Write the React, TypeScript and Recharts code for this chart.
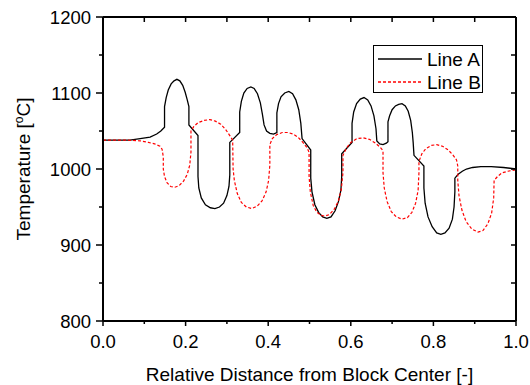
import React from 'react';
import { LineChart, Line, XAxis, YAxis, Legend } from 'recharts';

const FONT = '"Liberation Sans", Arial, sans-serif';

// [relative distance, temperature in °C]
const lineA: [number, number][] = [
    [0, 1038], [0.04, 1038], [0.065, 1038], [0.09, 1040], [0.114, 1042], [0.13, 1046], [0.14, 1050], [0.149, 1055],
    [0.149, 1082], [0.153, 1094], [0.158, 1104], [0.165, 1112], [0.172, 1116], [0.179, 1118], [0.186, 1116],
    [0.193, 1110], [0.199, 1101], [0.204, 1091], [0.208, 1082], [0.208, 1058], [0.23, 1044],
    [0.23, 990], [0.232, 975], [0.238, 962], [0.248, 953], [0.26, 949], [0.271, 948], [0.282, 950], [0.292, 955],
    [0.3, 965], [0.305, 977], [0.307, 992], [0.307, 1035], [0.331, 1048],
    [0.331, 1075], [0.335, 1089], [0.341, 1100], [0.349, 1106], [0.358, 1108], [0.366, 1106], [0.374, 1099],
    [0.381, 1087], [0.386, 1072], [0.39, 1058], [0.396, 1050], [0.404, 1047], [0.413, 1046], [0.421, 1048],
    [0.421, 1074], [0.425, 1086], [0.431, 1095], [0.44, 1100], [0.45, 1102], [0.459, 1099], [0.467, 1091],
    [0.474, 1078], [0.479, 1060], [0.482, 1040], [0.503, 1025],
    [0.503, 988], [0.506, 970], [0.513, 953], [0.522, 943], [0.532, 937], [0.542, 935], [0.552, 937], [0.562, 945],
    [0.57, 957], [0.576, 972], [0.578, 990], [0.578, 1020], [0.603, 1035],
    [0.603, 1060], [0.607, 1075], [0.614, 1086], [0.623, 1092], [0.632, 1094], [0.641, 1091], [0.649, 1083],
    [0.656, 1070], [0.661, 1053], [0.663, 1037], [0.67, 1033], [0.678, 1032], [0.686, 1034], [0.69, 1036],
    [0.69, 1062], [0.694, 1070], [0.7, 1078], [0.708, 1083], [0.716, 1085], [0.724, 1086], [0.732, 1083],
    [0.739, 1076], [0.745, 1064], [0.749, 1048], [0.751, 1035], [0.753, 1018], [0.777, 1004],
    [0.777, 975], [0.78, 955], [0.787, 937], [0.797, 924], [0.808, 916], [0.818, 914], [0.828, 916], [0.838, 922],
    [0.846, 934], [0.85, 950], [0.852, 970], [0.852, 988], [0.86, 993], [0.87, 997], [0.88, 1000], [0.895, 1002],
    [0.915, 1003], [0.94, 1003], [0.97, 1002], [1.0, 1000],
];

const lineB: [number, number][] = [
    [0, 1038], [0.06, 1038], [0.09, 1037], [0.11, 1035], [0.125, 1033], [0.138, 1030], [0.143, 1026], [0.146, 1016],
    [0.146, 1000], [0.149, 990], [0.155, 982], [0.164, 977], [0.174, 976], [0.184, 978], [0.195, 984], [0.204, 993],
    [0.21, 1005], [0.213, 1022], [0.213, 1050], [0.22, 1056], [0.23, 1061], [0.245, 1064], [0.259, 1065],
    [0.272, 1063], [0.285, 1059], [0.297, 1052], [0.307, 1044], [0.314, 1038],
    [0.315, 1000], [0.318, 985], [0.325, 968], [0.335, 956], [0.347, 950], [0.36, 948], [0.373, 951], [0.385, 958],
    [0.395, 970], [0.401, 985], [0.404, 1005], [0.404, 1032], [0.41, 1040], [0.42, 1045], [0.434, 1048],
    [0.448, 1048], [0.46, 1046], [0.472, 1042], [0.484, 1035], [0.494, 1028], [0.499, 1022],
    [0.499, 990], [0.502, 970], [0.509, 952], [0.518, 943], [0.528, 939], [0.537, 938], [0.548, 940], [0.56, 947],
    [0.57, 958], [0.577, 973], [0.581, 995], [0.581, 1018], [0.59, 1028], [0.6, 1035], [0.615, 1040], [0.63, 1041],
    [0.645, 1039], [0.66, 1034], [0.672, 1028], [0.678, 1024],
    [0.678, 995], [0.681, 975], [0.688, 957], [0.698, 944], [0.71, 937], [0.724, 934], [0.737, 936], [0.748, 943],
    [0.757, 955], [0.763, 972], [0.765, 995], [0.765, 1010], [0.772, 1020], [0.782, 1027], [0.795, 1031],
    [0.808, 1032], [0.822, 1030], [0.836, 1025], [0.848, 1018], [0.856, 1012], [0.859, 1004],
    [0.859, 985], [0.862, 965], [0.869, 946], [0.879, 931], [0.893, 921], [0.908, 917], [0.92, 919], [0.932, 928],
    [0.941, 942], [0.946, 962], [0.947, 985], [0.955, 990], [0.966, 995], [0.98, 997], [1.0, 999],
];

const xTicks = [0, 0.1, 0.2, 0.3, 0.4, 0.5, 0.6, 0.7, 0.8, 0.9, 1.0];
const xLabelTicks = [0, 0.2, 0.4, 0.6, 0.8, 1.0];
const yTicks = [800, 850, 900, 950, 1000, 1050, 1100, 1150, 1200];
const yLabelTicks = [800, 900, 1000, 1100, 1200];

const dataA = lineA.map(([x, t]) => ({ x, t }));
const dataB = lineB.map(([x, t]) => ({ x, t }));

const isMajorX = (v: number) => xLabelTicks.some(t => Math.abs(t - v) < 1e-6);
const isMajorY = (v: number) => yLabelTicks.includes(v);

const INK = '#000000';

const BottomTick = (props: any) => {
    const { x, y, payload } = props;
    const major = isMajorX(payload.value);
    return (
        <g>
            <rect x={x - 0.75} y={y} width={1.5} height={major ? 5 : 3} fill={INK} />
            {major && (
                <text x={x} y={y + 14} dy="0.71em" textAnchor="middle" fontSize={18.5} fontFamily={FONT} fill="#000">
                    {payload.value.toFixed(1)}
                </text>
            )}
        </g>
    );
};

const LeftTick = (props: any) => {
    const { x, y, payload } = props;
    const major = isMajorY(payload.value);
    const len = major ? 7 : 4;
    return (
        <g>
            <rect x={x - len} y={y - 0.75} width={len} height={1.5} fill={INK} />
            {major && (
                <text x={x - 12} y={y} dy="0.36em" textAnchor="end" fontSize={18.5} fontFamily={FONT} fill="#000">
                    {payload.value}
                </text>
            )}
        </g>
    );
};

const TopTick = (props: any) => (
    <rect x={props.x - 0.75} y={props.y} width={1.5} height={5} fill={INK} />
);

const RightTick = (props: any) => (
    <rect x={props.x - 5} y={props.y - 0.75} width={5} height={1.5} fill={INK} />
);

const YTitle = (props: any) => {
    const { viewBox } = props;
    const cx = 23;
    const cy = viewBox.y + viewBox.height / 2;
    return (
        <text
            x={cx}
            y={cy}
            transform={`rotate(-90 ${cx} ${cy})`}
            textAnchor="middle"
            dy="0.36em"
            fontSize={19}
            fontFamily={FONT}
            fill="#000"
        >
            Temperature [<tspan dy={-7} fontSize={12}>o</tspan><tspan dy={7}>C]</tspan>
        </text>
    );
};

const renderLegend = (props: any) => {
    const { payload } = props;
    return (
        <div style={{
            border: '1px solid #000',
            background: '#fff',
            width: 110,
            height: 48,
            boxSizing: 'border-box',
            paddingTop: 1.5,
            paddingLeft: 4,
        }}>
            {(payload || []).map((entry: any) => (
                <div key={entry.value} style={{ display: 'flex', alignItems: 'center', height: 23 }}>
                    <svg width={44} height={4} style={{ display: 'block' }}>
                        <line
                            x1={0}
                            y1={2}
                            x2={44}
                            y2={2}
                            stroke={entry.color}
                            strokeWidth={1.3}
                            strokeDasharray={entry.payload?.strokeDasharray}
                        />
                    </svg>
                    <span style={{ marginLeft: 5, fontSize: 19, fontFamily: FONT, color: '#000', lineHeight: '23px' }}>
                        {entry.value}
                    </span>
                </div>
            ))}
        </div>
    );
};

const axisStroke = { stroke: INK, strokeWidth: 2 };

const App: React.FC = () => {
    return (
        <div style={{ position: 'absolute', left: 0, top: 0, width: 530, height: 385, background: '#fff' }}>
            <LineChart width={530} height={385} margin={{ top: 16, right: 13, left: 0, bottom: 0 }}>
                <XAxis
                    type="number"
                    dataKey="x"
                    domain={[0, 1]}
                    ticks={xTicks}
                    interval={0}
                    height={64}
                    tickSize={0}
                    tickMargin={0}
                    tickLine={false}
                    tick={<BottomTick />}
                    axisLine={axisStroke}
                    label={{
                        value: 'Relative Distance from Block Center [-]',
                        position: 'insideBottom',
                        offset: 4,
                        style: { fontSize: 19, fontFamily: FONT, fill: '#000' },
                    }}
                />
                <XAxis
                    xAxisId="top"
                    orientation="top"
                    type="number"
                    dataKey="x"
                    domain={[0, 1]}
                    ticks={xTicks}
                    interval={0}
                    height={1}
                    tickSize={0}
                    tickMargin={0}
                    tickLine={false}
                    tick={<TopTick />}
                    axisLine={axisStroke}
                />
                <YAxis
                    type="number"
                    domain={[800, 1200]}
                    ticks={yTicks}
                    interval={0}
                    width={103}
                    tickSize={0}
                    tickMargin={0}
                    tickLine={false}
                    tick={<LeftTick />}
                    axisLine={axisStroke}
                    label={{ content: <YTitle /> }}
                />
                <YAxis
                    yAxisId="right"
                    orientation="right"
                    type="number"
                    domain={[800, 1200]}
                    ticks={yTicks}
                    interval={0}
                    width={1}
                    tickSize={0}
                    tickMargin={0}
                    tickLine={false}
                    tick={<RightTick />}
                    axisLine={axisStroke}
                />
                <Legend
                    layout="horizontal"
                    verticalAlign="middle"
                    align="center"
                    width={110}
                    height={48}
                    content={renderLegend}
                    wrapperStyle={{ left: 373, top: 45 }}
                />
                <Line
                    data={dataA}
                    dataKey="t"
                    name="Line A"
                    type="linear"
                    stroke="#000"
                    strokeWidth={1.3}
                    dot={false}
                    activeDot={false}
                    isAnimationActive={false}
                />
                {/* same domains as the main axes, so this also gives the frame axes their scale */}
                <Line
                    data={dataB}
                    dataKey="t"
                    name="Line B"
                    xAxisId="top"
                    yAxisId="right"
                    type="linear"
                    stroke="#ff0000"
                    strokeWidth={1.2}
                    strokeDasharray="3 2"
                    dot={false}
                    activeDot={false}
                    isAnimationActive={false}
                />
            </LineChart>
        </div>
    );
};

export default App;
